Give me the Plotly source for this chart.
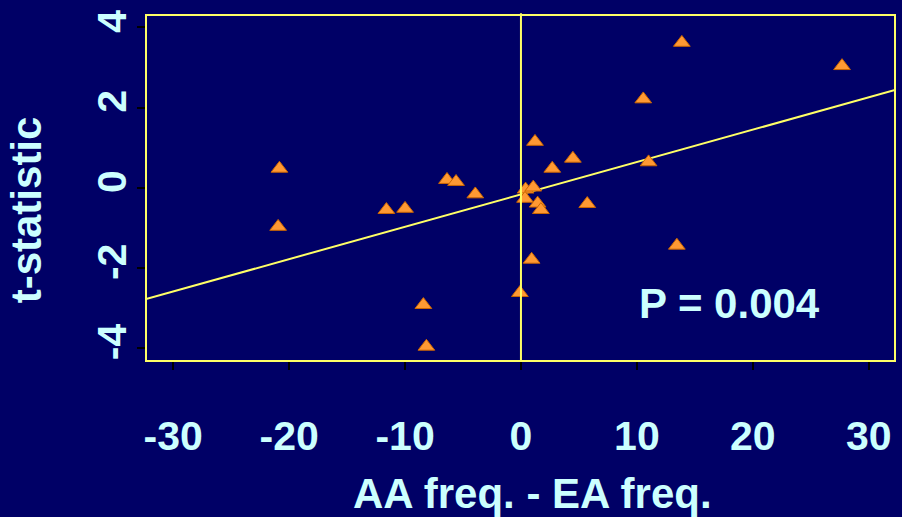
import plotly.graph_objects as go
import numpy as np

# Data
freq_diff = [-20.84, -20.95, -11.61, -10.0, -6.38, -5.6, -3.94, -8.42, -8.16, -0.09,
             0.92, 1.21, 4.48, 2.70, 11.01, 10.55, 13.88, 27.7, 5.72, 13.45,
             0.4, 1.06, 0.35, 1.44, 1.72]
t_stat = [0.48, -0.97, -0.55, -0.52, 0.20, 0.15, -0.16, -2.92, -3.96, -2.62,
          -1.79, 1.15, 0.73, 0.48, 0.64, 2.21, 3.62, 3.04, -0.40, -1.44,
          -0.04, 0.01, -0.27, -0.39, -0.55]
fit_intercept = -0.165
fit_slope = 0.0807
x_ticks = [-30, -20, -10, 0, 10, 20, 30]
y_ticks = [-4, -2, 0, 2, 4]
p_label = "P = 0.004"

x_range = [-32.35, 32.27]
y_range = [-4.32, 4.31]

BG = "#000066"
TXT = "#CCFFFF"
YEL = "#FFFF66"
FONT = "Liberation Sans, Arial, sans-serif"

fit_x = np.array(x_range)
fit_y = fit_intercept + fit_slope * fit_x

fig = go.Figure()
fig.add_trace(go.Scatter(x=fit_x, y=fit_y, mode="lines",
                         line=dict(color=YEL, width=2), hoverinfo="skip",
                         showlegend=False, cliponaxis=True))
fig.add_trace(go.Scatter(x=freq_diff, y=t_stat, mode="markers",
                         marker=dict(symbol="triangle-up", size=14.5, color="#FF9933",
                                     line=dict(color="#CC6600", width=1)),
                         showlegend=False))

fig.add_shape(type="line", xref="x", yref="paper", x0=0, x1=0, y0=0, y1=1.005,
              line=dict(color=YEL, width=2), layer="above")
fig.add_shape(type="rect", xref="paper", yref="paper", x0=0, x1=1, y0=0, y1=1,
              line=dict(color=YEL, width=2), layer="above")

fig.add_annotation(x=18.0, y=-2.89, xref="x", yref="y", text=p_label, showarrow=False,
                   font=dict(family=FONT, size=42, color=TXT, weight="bold"),
                   xanchor="center", yanchor="middle")
fig.add_annotation(x=0.516, y=-0.384, xref="paper", yref="paper",
                   text="AA freq. - EA freq.", showarrow=False,
                   font=dict(family=FONT, size=42, color=TXT, weight="bold"),
                   xanchor="center", yanchor="middle")
fig.add_annotation(x=-0.160, y=0.436, xref="paper", yref="paper",
                   text="t-statistic", showarrow=False, textangle=-90,
                   font=dict(family=FONT, size=42, color=TXT, weight="bold"),
                   xanchor="center", yanchor="middle")

tickfont = dict(family=FONT, size=41, color=TXT, weight="bold")
fig.update_xaxes(range=x_range, tickvals=x_ticks, ticktext=[str(v) for v in x_ticks],
                 showgrid=False, zeroline=False, showline=False,
                 ticks="outside", ticklen=8, tickcolor="black", tickwidth=2,
                 tickfont=tickfont, ticklabelstandoff=31)
fig.update_yaxes(range=y_range, tickvals=y_ticks, ticktext=[str(v) for v in y_ticks],
                 showgrid=False, zeroline=False, showline=False,
                 ticks="outside", ticklen=8, tickcolor="black", tickwidth=2,
                 tickfont=tickfont, tickangle=-90, ticklabelstandoff=-5)

fig.update_layout(width=902, height=517, paper_bgcolor=BG, plot_bgcolor=BG,
                  margin=dict(l=146, r=7, t=15, b=156), autosize=False)
fig.write_html("out.html")
